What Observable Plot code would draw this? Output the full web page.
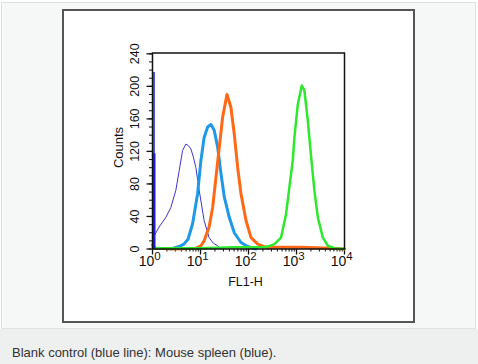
<!DOCTYPE html>
<html><head><meta charset="utf-8">
<script src="https://cdn.jsdelivr.net/npm/d3@7"></script>
<script src="https://cdn.jsdelivr.net/npm/@observablehq/plot@0.6"></script>
<style>
html,body{margin:0;padding:0;background:#fff;width:478px;height:364px;overflow:hidden;font-family:"Liberation Sans",Arial,sans-serif;}
#panel{position:absolute;left:1px;top:2px;width:473px;height:325px;background:#f6f7f7;border:1px solid #dfe0e0;}
#frame{position:absolute;left:62px;top:9px;width:349px;height:310px;background:#fff;border:2px solid #555;}
#chart{position:absolute;left:0;top:0;}
#caption{position:absolute;left:0;top:329px;width:478px;height:35px;background:#eeefef;font-size:13px;color:#333;}
#caption span{position:absolute;left:12px;top:16px;line-height:15px;white-space:nowrap;}
</style></head>
<body>
<div id="panel"></div>
<div id="frame"></div>
<div id="chart"></div>
<div id="caption"><span>Blank control (blue line): Mouse spleen (blue).</span></div>
<script>
// FL1-H channel values and counts
const blankX = [1.0, 1.08, 1.37, 1.9, 2.41, 3.06, 3.59, 4.23, 4.95, 5.6, 6.31, 7.1, 8.02, 9.4, 11.9, 15.1, 18.5, 22.8, 26.9];
const blankY = [14, 16, 27, 39, 51, 72, 96, 121, 129, 127, 123, 113, 100, 72, 35, 14, 7, 4, 0];

const spleenX = [2.41, 3.59, 4.5, 5.5, 6.84, 8.7, 10.2, 11.9, 14.1, 16.5, 19.3, 22.8, 26.7, 31.3, 39.7, 50.6, 69.7, 96.2, 143];
const spleenY = [0, 3, 6, 12, 31, 68, 109, 137, 150, 153, 146, 125, 93, 64, 39, 20, 8, 3, 0];

const orangeX = [1.0, 1.15, 3, 8.0, 10.2, 11.9, 15.1, 17.9, 21, 24.6, 28.9, 35.6, 43.1, 50.6, 59.5, 69.7, 88.7, 113, 156, 232, 1250, 5270, 10000];
const orangeY = [5, 1, 0, 1, 4, 10, 27, 51, 88, 125, 162, 190, 174, 141, 100, 68, 35, 14, 6, 2, 2, 1, 0];

const greenX = [1.0, 10, 50, 182, 251, 346, 477, 606, 711, 837, 904, 1065, 1290, 1460, 1720, 2020, 2360, 2780, 3540, 4500, 6180, 10000];
const greenY = [1, 1, 2, 2, 3, 6, 14, 43, 76, 109, 137, 178, 201, 195, 158, 113, 72, 39, 14, 4, 1, 0];

// pile-up at the first channel (blank control, mouse spleen)
const spikeX = [1, 1];
const spikeY = [217, 117];

const xMajorTicks = [1, 10, 100, 1000, 10000];
const xExponents = ["0", "1", "2", "3", "4"];
const yMajorTicks = [0, 40, 80, 120, 160, 200, 240];

const xMinorTicks = [];
for (const d of [1, 10, 100, 1000]) for (let k = 2; k <= 9; k++) xMinorTicks.push(d * k);
const yMinorTicks = d3.range(0, 241, 10);

const toRows = (xs, ys) => xs.map((x, i) => ({x, y: ys[i]}));
const narrow = "'Liberation Sans Narrow', 'Liberation Sans', Arial, sans-serif";

const chart = Plot.plot({
  width: 478, height: 328,
  marginLeft: 152, marginRight: 134, marginTop: 52.5, marginBottom: 79.5,
  style: {background: "transparent", fontFamily: "'Liberation Sans', Arial, sans-serif", color: "#111", overflow: "visible"},
  x: {type: "log", domain: [1, 10000], label: null},
  y: {domain: [0, 241], label: null},
  marks: [
    Plot.axisX({ticks: xMinorTicks, tickSize: 3, tickFormat: () => "", label: null, stroke: "#111"}),
    Plot.axisX({ticks: xMajorTicks, tickSize: 6, tickFormat: () => "", label: null, stroke: "#111", strokeWidth: 1.3}),
    Plot.axisY({ticks: yMinorTicks, tickSize: 3, tickFormat: () => "", label: null, stroke: "#111"}),
    Plot.axisY({ticks: yMajorTicks, tickSize: 5.5, tickFormat: () => "", label: null, stroke: "#111", strokeWidth: 1.3}),
    Plot.text(xMajorTicks, {x: d => d, text: () => "10", frameAnchor: "bottom", dx: -6, dy: 7, lineAnchor: "top", fontSize: 14, fontFamily: narrow, fill: "#111"}),
    Plot.text(xMajorTicks, {x: d => d, text: (d, i) => xExponents[i], frameAnchor: "bottom", dx: 5, dy: 2.5, lineAnchor: "top", fontSize: 11.5, fontFamily: narrow, fill: "#111"}),
    Plot.text(["FL1-H"], {frameAnchor: "bottom", dx: -3, dy: 28, lineAnchor: "top", fontSize: 12.5, fill: "#111"}),
    Plot.text(yMajorTicks, {y: d => d, text: d => String(d), frameAnchor: "left", dx: -18, rotate: -90, textAnchor: "middle", lineAnchor: "middle", fontSize: 12.5, fontFamily: narrow, fill: "#111"}),
    Plot.text(["Counts"], {frameAnchor: "left", dx: -34, dy: -3.5, rotate: -90, textAnchor: "middle", lineAnchor: "middle", fontSize: 13, fontFamily: narrow, fill: "#111"}),
    Plot.line(toRows(blankX, blankY), {x: "x", y: "y", stroke: "#4233c8", strokeWidth: 1}),
    Plot.line(toRows(spleenX, spleenY), {x: "x", y: "y", stroke: "#1f98e8", strokeWidth: 3}),
    Plot.line(toRows(orangeX, orangeY), {x: "x", y: "y", stroke: "#ff6815", strokeWidth: 3}),
    Plot.line(toRows(greenX, greenY), {x: "x", y: "y", stroke: "#2de82d", strokeWidth: 2.5}),
    Plot.ruleX([0], {x: () => spikeX[0], y1: 0, y2: () => spikeY[0], stroke: "#1a1ad0", strokeWidth: 1.5, dx: 1.5}),
    Plot.ruleX([1], {x: () => spikeX[1], y1: 0, y2: () => spikeY[1], stroke: "#1c1ce6", strokeWidth: 3, dx: 1.5}),
    Plot.frame({stroke: "#111", strokeWidth: 1.5})
  ]
});
document.getElementById("chart").appendChild(chart);
</script>
</body></html>
